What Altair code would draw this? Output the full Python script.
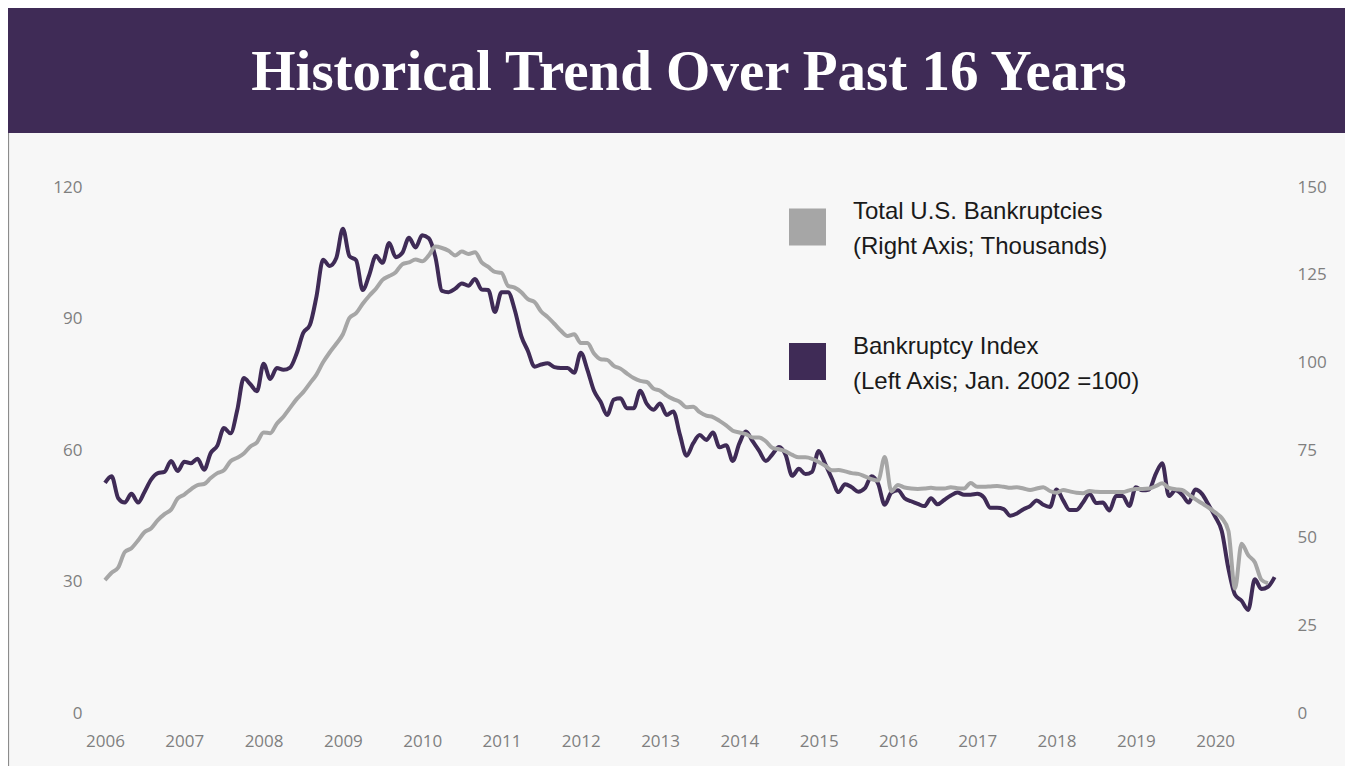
import altair as alt
import pandas as pd

TITLE = "Historical Trend Over Past 16 Years"
INDEX_NAME = "Bankruptcy Index|(Left Axis; Jan. 2002 =100)"
TOTAL_NAME = "Total U.S. Bankruptcies|(Right Axis; Thousands)"
PURPLE = "#3f2b56"
GRAY = "#a6a6a6"

# Monthly values starting Jan 2006
index_vals = [
    52.5, 54, 49, 48, 50, 48, 50.5, 53.3, 54.7, 55,
    57.5, 55.2, 57.3, 57, 58, 55.5, 59.3, 61, 65, 63.8,
    69, 76.4, 75, 73.4, 79.7, 76.2, 78.7, 78.3, 78.8, 82,
    86.7, 88.5, 95, 103.4, 102, 103.8, 110.5, 104.2, 103.3, 96.5,
    100, 104.3, 102.7, 107.2, 104, 105, 108.4, 106.2, 109, 108.3,
    104, 96.3, 96, 96.8, 98, 97.5, 99, 96.6, 96.5, 91.5,
    96, 96, 92, 86, 82.6, 79, 79.5, 79.8, 78.9, 78.7,
    78.7, 77.6, 82.2, 78.3, 73.5, 71, 68, 71.5, 71.8, 69.5,
    69.5, 73.5, 70.5, 69.2, 70.6, 68, 68.8, 63.5, 58.7, 61.5,
    63.4, 62.3, 64, 60.6, 61.1, 57.5, 61.5, 64.2, 62, 59.8,
    57.5, 59, 60.7, 58.9, 54.1, 55.7, 54.5, 55, 59.8, 56.8,
    53.5, 50.4, 52.2, 51.5, 50.5, 51.3, 54, 52.3, 47.5, 50.3,
    50.8, 49, 48.3, 47.7, 47.2, 49, 47.6, 48.6, 49.6, 50.3,
    49.8, 49.8, 50, 49.2, 46.8, 46.8, 46.5, 45, 45.5, 46.5,
    47.2, 48.5, 47.5, 47, 51, 48.5, 46.3, 46.3, 48, 50,
    47.9, 48, 46.2, 49.5, 49.5, 47.2, 51.5, 50.8, 51, 54.5,
    57, 49.5, 50.8, 49.8, 48, 51, 50, 47.5, 44.8, 41.5,
    33, 27, 25.6, 23.5, 30.5, 28.3, 28.8, 31,
]

total_vals = [
    37.9, 40, 41.5, 45.9, 47, 49.2, 51.6, 52.7, 55, 56.7,
    58, 61.2, 62.3, 63.8, 65, 65.3, 67, 68.4, 69.2, 71.8,
    72.8, 74, 76, 77.2, 80, 79.8, 82.5, 84.5, 87, 89.5,
    91.5, 94, 96.5, 100, 102.8, 105.3, 108, 112.7, 114, 116.7,
    119, 121, 123.5, 124.6, 125.7, 128, 128.5, 129.3, 128.8, 130.5,
    133, 132.6, 131.8, 130.5, 131.6, 130.9, 131.4, 128.5, 127.2, 125.8,
    125.5, 121.8, 121.3, 120, 118, 117.2, 114.5, 112.9, 111, 109,
    107.5, 108, 105.5, 105.5, 102.5, 100.9, 100.7, 99, 98.2, 96.8,
    95.5, 94.7, 94.4, 92.5, 91.9, 90.5, 89.5, 88.7, 87.2, 87.3,
    85.8, 84.8, 84.4, 83.3, 82, 80.5, 80, 79.5, 78.6, 78.6,
    77.5, 75.6, 75.2, 74.6, 73.6, 72.9, 72.9, 72.5, 71.6, 70.5,
    69.2, 69.3, 68.9, 68.4, 68.2, 67.5, 66.7, 66.3, 73, 63.2,
    65, 64.3, 64, 63.9, 64, 64.2, 64, 64, 64.4, 64.1,
    64, 65.6, 64.5, 64.5, 64.6, 64.7, 64.5, 64.2, 64.4, 64,
    63.6, 64, 64.4, 63.3, 62.8, 63.6, 63.2, 62.8, 62.7, 63.3,
    63.1, 63, 63, 63, 63, 63.5, 63.9, 63.9, 64, 64.7,
    65.5, 64.2, 63.8, 63.6, 62.3, 61, 59.8, 58.6, 57.2, 55.6,
    52, 35.5, 48.3, 45, 43, 38, 37,
]

left_ticks = [0, 30, 60, 90, 120]
right_ticks = [0, 25, 50, 75, 100, 125, 150]
year_ticks = [i * 12 for i in range(15)]  # Jan 2006 .. Jan 2020
legend_order = [TOTAL_NAME, INDEX_NAME]

idx_df = pd.DataFrame({"m": list(range(len(index_vals))), "value": index_vals, "series": INDEX_NAME})
tot_df = pd.DataFrame({"m": list(range(len(total_vals))), "value": total_vals, "series": TOTAL_NAME})
legend_df = pd.DataFrame({"series": legend_order})

W, H = 1182, 526
xscale = alt.Scale(domain=[0, W / 6.608], nice=False, zero=False)
xaxis = alt.Axis(values=year_ticks, labelExpr="'' + (2006 + round(datum.value / 12))",
                 title=None, domain=False, ticks=False, tickSize=0, grid=False,
                 labelPadding=20, labelFlush=False, labelFont="Open Sans",
                 labelFontSize=17, labelColor="#7f7f7f")

color_scale = alt.Scale(domain=legend_order, range=[GRAY, PURPLE])
color = alt.Color("series:N", scale=color_scale, legend=None)

title_df = pd.DataFrame({"title": [TITLE]})
bar = alt.Chart(title_df).mark_rect(color=PURPLE).encode(
    x=alt.value(-97), x2=alt.value(1240), y=alt.value(-179), y2=alt.value(-54))
title_text = alt.Chart(title_df).mark_text(
    font="Liberation Serif", fontWeight="bold", fontSize=57, color="white",
    align="center", baseline="alphabetic").encode(
    text="title:N", x=alt.value(584), y=alt.value(-97))
border = alt.Chart(title_df).mark_rule(color="#8c8c8c", strokeWidth=1.2).encode(
    x=alt.value(-96.5), y=alt.value(-54), y2=alt.value(580))

index_line = alt.Chart(idx_df).mark_line(strokeWidth=4, interpolate="monotone").encode(
    x=alt.X("m:Q", scale=xscale, axis=xaxis),
    y=alt.Y("value:Q", scale=alt.Scale(domain=[0, 120], nice=False),
            axis=alt.Axis(orient="left", values=left_ticks, title=None, domain=False, ticks=False,
                          tickSize=0, grid=False, labelPadding=23, labelFont="Open Sans",
                          labelFontSize=17, labelColor="#7f7f7f")),
    color=color,
)
total_line = alt.Chart(tot_df).mark_line(strokeWidth=4, interpolate="monotone").encode(
    x=alt.X("m:Q", scale=xscale, axis=xaxis),
    y=alt.Y("value:Q", scale=alt.Scale(domain=[0, 150], nice=False),
            axis=alt.Axis(orient="right", values=right_ticks, title=None, domain=False, ticks=False,
                          tickSize=0, grid=False, labelPadding=10, labelFont="Open Sans",
                          labelFontSize=17, labelColor="#7f7f7f")),
    color=color,
)

# legend (squares + two-line labels) on its own point scale
legend_y = alt.Y("series:N", scale=alt.Scale(type="point", domain=legend_order, range=[40, 174.5], padding=0),
                 axis=None)
legend_sq = alt.Chart(legend_df).mark_square(size=1369, filled=True, opacity=1).encode(
    x=alt.value(702.5), y=legend_y, color=color)
legend_txt = alt.Chart(legend_df).mark_text(
    align="left", baseline="middle", lineBreak="|", lineHeight=35, fontSize=24, dy=-15,
    font="Liberation Sans", color="#1a1a1a").encode(
    x=alt.value(748), y=legend_y, text="series:N")

chart = alt.layer(bar, title_text, border, index_line, total_line, legend_sq, legend_txt).resolve_scale(
    y="independent"
).properties(
    width=W, height=H,
    autosize=alt.AutoSizeParams(type="none"),
    padding={"left": 97, "top": 179, "right": 58, "bottom": 53},
    background="#f7f7f7",
).configure_view(stroke=None)

chart.save("out.html", embed_options={"renderer": "svg", "actions": False})
